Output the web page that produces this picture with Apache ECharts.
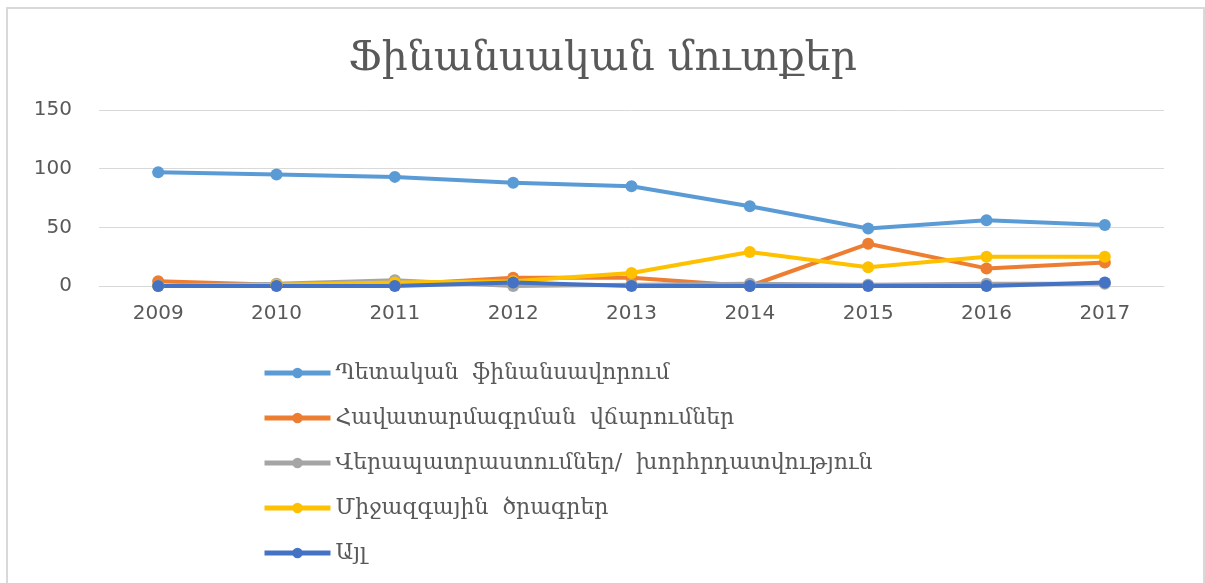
<!DOCTYPE html>
<html>
<head>
<meta charset="utf-8">
<script src="https://cdn.jsdelivr.net/npm/echarts@6/dist/echarts.min.js"></script>
<style>
	html, body { margin: 0; padding: 0; background: #fff; overflow: hidden; }
	#frame { position: absolute; left: 6px; top: 7px; width: 1195px; height: 600px; border: 2px solid #d9d9d9; }
	#chart { position: absolute; left: 0; top: 0; width: 1205px; height: 583px; }
</style>
</head>
<body>
<div id="frame"></div>
<div id="chart"></div>
<script>
const years = ['2009', '2010', '2011', '2012', '2013', '2014', '2015', '2016', '2017']
const yTicks = [0, 50, 100, 150]

const stateFunding = [97, 95, 93, 88, 85, 68, 49, 56, 52]
const accreditationFees = [4, 1, 1, 7, 7, 0, 36, 15, 20]
const trainingConsulting = [0, 2, 5, 0, 1, 2, 1, 2, 2]
const internationalProjects = [0, 1, 3, 4, 11, 29, 16, 25, 25]
const otherIncome = [0, 0, 0, 3, 0, 0, 0, 0, 3]

const seriesNames = [
	'Պետական  ֆինանսավորում',
	'Հավատարմագրման  վճարումներ',
	'Վերապատրաստումներ/  խորհրդատվություն',
	'Միջազգային  ծրագրեր',
	'Այլ'
]
const seriesColors = ['#5b9bd5', '#ed7d31', '#a5a5a5', '#ffc000', '#4472c4']
const seriesData = [stateFunding, accreditationFees, trainingConsulting, internationalProjects, otherIncome]

const chart = echarts.init(document.getElementById('chart'))
chart.setOption({
	animation: false,
	title: {
		text: 'Ֆինանսական մուտքեր',
		left: 'center',
		top: 34,
		textStyle: {
			fontFamily: 'DejaVu Serif',
			fontSize: 41,
			fontWeight: 'normal',
			color: '#595959'
		}
	},
	legend: {
		orient: 'vertical',
		left: 257,
		top: 357,
		itemWidth: 66,
		itemHeight: 13,
		itemGap: 23,
		data: seriesNames,
		lineStyle: { width: 5 },
		textStyle: {
			fontFamily: 'DejaVu Serif',
			fontSize: 22,
			color: '#595959'
		}
	},
	grid: {
		left: 99,
		right: 41,
		top: 110,
		bottom: 297
	},
	xAxis: {
		type: 'category',
		data: years,
		axisLine: { show: true, lineStyle: { color: '#d9d9d9', width: 1 } },
		axisTick: { show: false },
		axisLabel: {
			margin: 18,
			fontFamily: 'DejaVu Sans',
			fontSize: 20,
			color: '#595959'
		}
	},
	yAxis: {
		type: 'value',
		min: yTicks[0],
		max: yTicks[yTicks.length - 1],
		interval: 50,
		axisLine: { show: false },
		axisTick: { show: false },
		splitLine: { lineStyle: { color: '#d9d9d9', width: 1 } },
		axisLabel: {
			margin: 27,
			fontFamily: 'DejaVu Sans',
			fontSize: 20,
			color: '#595959'
		}
	},
	series: seriesNames.map((name, i) => ({
		name: name,
		type: 'line',
		data: seriesData[i],
		symbol: 'circle',
		symbolSize: 12,
		color: seriesColors[i],
		lineStyle: { width: 4, color: seriesColors[i] },
		itemStyle: { color: seriesColors[i] }
	}))
})
</script>
</body>
</html>
